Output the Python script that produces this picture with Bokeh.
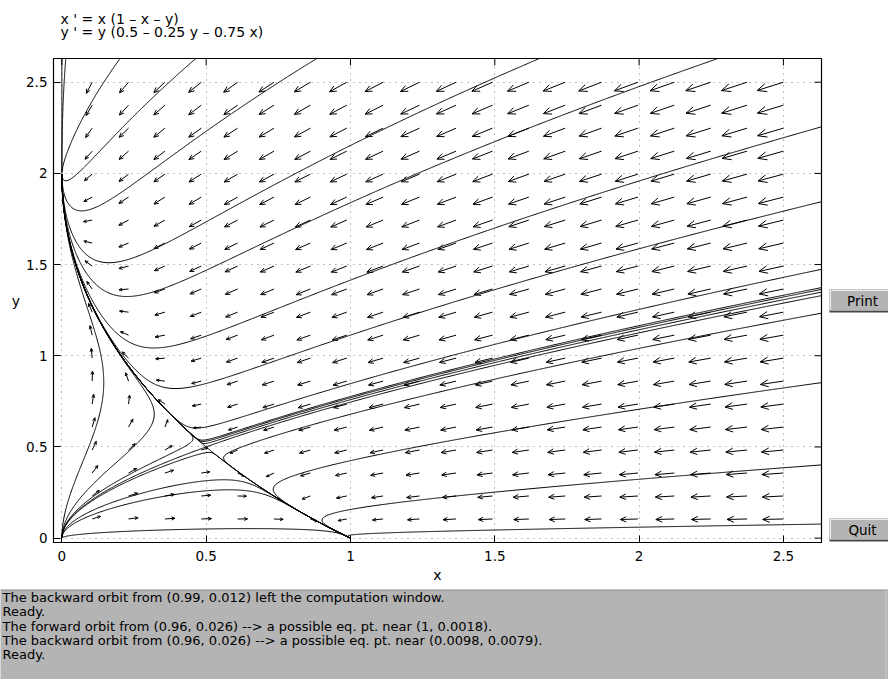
import math
from bokeh.plotting import figure
from bokeh.models import Range1d, FixedTicker
from bokeh.layouts import column, row
from bokeh.core.properties import value
from bokeh.embed import file_html
from bokeh.resources import INLINE

# ---------------- data ----------------
title_lines = ["x ' = x (1 \u2013 x \u2013 y)", "y ' = y (0.5 \u2013 0.25 y \u2013 0.75 x)"]
x_coef = [1.0, 1.0, 1.0]      # x' = x (a - b x - c y)
y_coef = [0.5, 0.25, 0.75]    # y' = y (a - b y - c x)
x_window = [-0.029, 2.632]
y_window = [-0.024, 2.630]
tick_values = [0, 0.5, 1, 1.5, 2, 2.5]
tick_labels = ["0", "0.5", "1", "1.5", "2", "2.5"]
x_label = "x"
y_label = "y"
arrow_grid_x = [0.105, 0.231, 0.357, 0.483, 0.609, 0.735, 0.861, 0.987, 1.113, 1.239,
                1.366, 1.492, 1.618, 1.744, 1.870, 1.996, 2.122, 2.248, 2.374, 2.500]
arrow_grid_y = [0.105, 0.231, 0.357, 0.483, 0.609, 0.735, 0.861, 0.987, 1.113, 1.239,
                1.366, 1.492, 1.618, 1.744, 1.870, 1.996, 2.122, 2.248, 2.374, 2.500]
orbit_start_x = [0.0, 0.013, 0.197, 0.457, 0.873, 1.64, 2.255,
                 2.62, 2.62, 2.62, 2.62, 2.62, 2.62, 2.62, 2.62, 2.62,
                 0.145, 0.32, 0.45, 0.51, 0.56, 0.578, 0.96, 0.99]
orbit_start_y = [2.62, 2.62, 2.62, 2.62, 2.62, 2.62, 2.62,
                 2.25, 1.84, 1.47, 1.37, 1.36, 1.345, 1.23, 0.85, 0.40,
                 0.87, 0.68, 0.53, 0.47, 0.32, 0.265, 0.026, 0.012]
equilibria_x = [0.0, 1.0, 0.0]
equilibria_y = [0.0, 0.0, 2.0]
saddle_point = [0.5, 0.5]
messages = [
    "The backward orbit from (0.99, 0.012) left the computation window.",
    "Ready.",
    "The forward orbit from (0.96, 0.026) --> a possible eq. pt. near (1, 0.0018).",
    "The backward orbit from (0.96, 0.026) --> a possible eq. pt. near (0.0098, 0.0079).",
    "Ready.",
]
button_labels = ["Print", "Quit"]

# ---------------- layout constants (page pixels) ----------------
PAGE_W, PAGE_H = 888, 679
TOP_H = 57            # title strip
MAIN_W, MAIN_H = 826, 532
MSG_H = PAGE_H - TOP_H - MAIN_H
FL, FT, FW, FH = 53, 1, 768, 484
FB = MAIN_H - FT - FH
SX = FW / (x_window[1] - x_window[0])
SY = FH / (y_window[1] - y_window[0])
FONT = "DejaVu Sans"


def vf(x, y):
    return (x * (x_coef[0] - x_coef[1] * x - x_coef[2] * y),
            y * (y_coef[0] - y_coef[1] * y - y_coef[2] * x))


def ndir(x, y, s):
    fx, fy = vf(x, y)
    n = math.hypot(fx * SX, fy * SY)
    if n == 0:
        return 0.0, 0.0
    return s * fx / n, s * fy / n


XL, XR = x_window[0] - 0.004, x_window[1] + 0.004
YB, YT = y_window[0] - 0.004, y_window[1] + 0.004
DS = 1.0


def trace(x, y, s, nmax=5000):
    xs, ys = [x], [y]
    for _ in range(nmax):
        k1 = ndir(x, y, s)
        k2 = ndir(x + 0.5 * DS * k1[0], y + 0.5 * DS * k1[1], s)
        k3 = ndir(x + 0.5 * DS * k2[0], y + 0.5 * DS * k2[1], s)
        k4 = ndir(x + DS * k3[0], y + DS * k3[1], s)
        x += DS / 6 * (k1[0] + 2 * k2[0] + 2 * k3[0] + k4[0])
        y += DS / 6 * (k1[1] + 2 * k2[1] + 2 * k3[1] + k4[1])
        xs.append(x)
        ys.append(y)
        if not (XL <= x <= XR and YB <= y <= YT):
            break
        if any(math.hypot((x - ex) * SX, (y - ey) * SY) < 1.2
               for ex, ey in zip(equilibria_x, equilibria_y)):
            break
    return xs, ys


orb_xs, orb_ys = [], []
for x0, y0 in zip(orbit_start_x, orbit_start_y):
    bx, by = trace(x0, y0, -1)
    fx_, fy_ = trace(x0, y0, 1)
    orb_xs.append(bx[::-1] + fx_[1:])
    orb_ys.append(by[::-1] + fy_[1:])

# separatrices of the saddle
sxp, syp = saddle_point
a11 = x_coef[0] - 2 * x_coef[1] * sxp - x_coef[2] * syp
a12 = -x_coef[2] * sxp
a21 = -y_coef[2] * syp
a22 = y_coef[0] - 2 * y_coef[1] * syp - y_coef[2] * sxp
tr = a11 + a22
det = a11 * a22 - a12 * a21
disc = math.sqrt(tr * tr / 4 - det)
for lam, sgn in ((tr / 2 + disc, 1), (tr / 2 - disc, -1)):
    vx, vy = a12, lam - a11
    nv = math.hypot(vx, vy)
    vx, vy = vx / nv, vy / nv
    for e in (1, -1):
        xs, ys = trace(sxp + e * 1e-5 * vx, syp + e * 1e-5 * vy, sgn)
        orb_xs.append(xs)
        orb_ys.append(ys)

# arrows of the vector field
arr_xs, arr_ys = [], []
ANG = math.radians(24)
for gy in arrow_grid_y:
    for gx in arrow_grid_x:
        fx, fy = vf(gx, gy)
        ux, uy = fx * SX, fy * SY
        n = math.hypot(ux, uy)
        if n == 0:
            continue
        ux, uy = ux / n, uy / n
        L = 4 + 10.5 * math.hypot(fx, fy) ** (1 / 3)
        tx, ty = gx + ux * L / SX, gy + uy * L / SY
        arr_xs.append([gx, tx])
        arr_ys.append([gy, ty])
        h = 0.37 * L
        hx, hy = [], []
        for sg in (1, -1):
            a, b = -ux, -uy
            c, s_ = math.cos(ANG), sg * math.sin(ANG)
            rx, ry = a * c - b * s_, a * s_ + b * c
            hx.append(tx + rx * h / SX)
            hy.append(ty + ry * h / SY)
        arr_xs.append([hx[0], tx, hx[1]])
        arr_ys.append([hy[0], ty, hy[1]])


def plain_fig(w, h, x0, x1, y0, y1, bg="white", **kw):
    f = figure(width=w, height=h, x_range=Range1d(x0, x1), y_range=Range1d(y0, y1),
               output_backend="svg", toolbar_location=None, title=None,
               x_axis_type=None, y_axis_type=None, **kw)
    f.outline_line_color = None
    f.background_fill_color = bg
    f.border_fill_color = bg
    return f


# ---------------- title strip ----------------
top = plain_fig(PAGE_W, TOP_H, 0, PAGE_W, TOP_H, 0, min_border=0)
top.text(x=[60, 60], y=[10, 23.5], text=title_lines, text_font=value(FONT),
         text_font_size="14px", text_align="left", text_baseline="top", text_color="black")

# ---------------- main plot ----------------
p = figure(width=MAIN_W, height=MAIN_H, x_range=Range1d(*x_window), y_range=Range1d(*y_window),
           output_backend="svg", toolbar_location=None, title=None,
           min_border_left=FL, min_border_right=MAIN_W - FL - FW,
           min_border_top=FT, min_border_bottom=FB)
p.background_fill_color = "white"
p.border_fill_color = "white"
p.outline_line_color = "black"
p.outline_line_width = 1.2

overrides = {v: t for v, t in zip(tick_values, tick_labels)}
for ax in (p.xaxis[0], p.yaxis[0]):
    ax.ticker = FixedTicker(ticks=tick_values)
    ax.major_label_overrides = overrides
    ax.major_tick_in = 7
    ax.major_tick_out = 0
    ax.minor_tick_in = 0
    ax.minor_tick_out = 0
    ax.axis_line_color = "black"
    ax.major_tick_line_color = "black"
    ax.major_label_text_font = FONT
    ax.major_label_text_font_size = "13.5px"
    ax.major_label_text_color = "black"
    ax.axis_label_text_font = FONT
    ax.axis_label_text_font_size = "14px"
    ax.axis_label_text_font_style = "normal"
    ax.axis_label_text_color = "black"
p.xaxis[0].major_label_standoff = 8
p.xaxis[0].axis_label = x_label
p.xaxis[0].axis_label_standoff = 3
p.yaxis[0].major_label_standoff = 6
p.yaxis[0].axis_label = y_label
p.yaxis[0].axis_label_standoff = 3
try:
    p.yaxis[0].axis_label_orientation = "horizontal"
except Exception:
    pass

for g in (p.xgrid[0], p.ygrid[0]):
    g.ticker = FixedTicker(ticks=tick_values)
    g.grid_line_color = "#808080"
    g.grid_line_dash = "1 5"
    g.grid_line_width = 1

# inward ticks on the top and right edges of the box
tick_len_x = 7 / SX
tick_len_y = 7 / SY
p.segment(x0=tick_values, x1=tick_values, y0=[y_window[1]] * len(tick_values),
          y1=[y_window[1] - tick_len_y] * len(tick_values), line_color="black", line_width=1)
p.segment(x0=[x_window[1]] * len(tick_values), x1=[x_window[1] - tick_len_x] * len(tick_values),
          y0=tick_values, y1=tick_values, line_color="black", line_width=1)

p.multi_line(arr_xs, arr_ys, line_color="black", line_width=1)
p.multi_line(orb_xs, orb_ys, line_color="black", line_width=1)

# ---------------- side panel with buttons ----------------
# its frame is aligned with the main frame (page y 58..542)
side_top, side_bot = TOP_H + FT, TOP_H + FT + FH
side = plain_fig(PAGE_W - MAIN_W, MAIN_H, MAIN_W, PAGE_W, side_bot, side_top,
                 min_border_left=0, min_border_right=0, min_border_top=FT, min_border_bottom=FB)
btn_top = [289, 518]
side.quad(left=[829, 829], right=[889, 889], top=btn_top, bottom=[t + 23 for t in btn_top],
          fill_color="#454545", line_color=None)
side.quad(left=[829, 829], right=[888, 888], top=btn_top, bottom=[t + 21 for t in btn_top],
          fill_color="#ececec", line_color=None)
side.quad(left=[830.5, 830.5], right=[888, 888], top=[t + 1.5 for t in btn_top],
          bottom=[t + 21 for t in btn_top], fill_color="#b4b4b4", line_color=None)
side.text(x=[862, 862], y=[t + 11.5 for t in btn_top], text=button_labels, text_font=value(FONT),
          text_font_size="13.5px", text_align="center", text_baseline="middle", text_color="black")

# ---------------- message area ----------------
msg = plain_fig(PAGE_W, MSG_H, 0, PAGE_W, TOP_H + MAIN_H + MSG_H, TOP_H + MAIN_H,
                bg="#b4b4b4", min_border=0)
msg.quad(left=[0], right=[PAGE_W], top=[TOP_H + MAIN_H], bottom=[TOP_H + MAIN_H + 1],
         fill_color="#8c8c8c", line_color=None)
msg.quad(left=[885], right=[886], top=[TOP_H + MAIN_H], bottom=[TOP_H + MAIN_H + MSG_H],
         fill_color="#d0d0d0", line_color=None)
msg.text(x=[2] * len(messages), y=[597 + 14.3 * i for i in range(len(messages))], text=messages,
         text_font=value(FONT), text_font_size="13px", text_align="left",
         text_baseline="middle", text_color="black")

layout = column(top, row(p, side), msg)
open("out.html", "w").write(file_html(layout, INLINE))
